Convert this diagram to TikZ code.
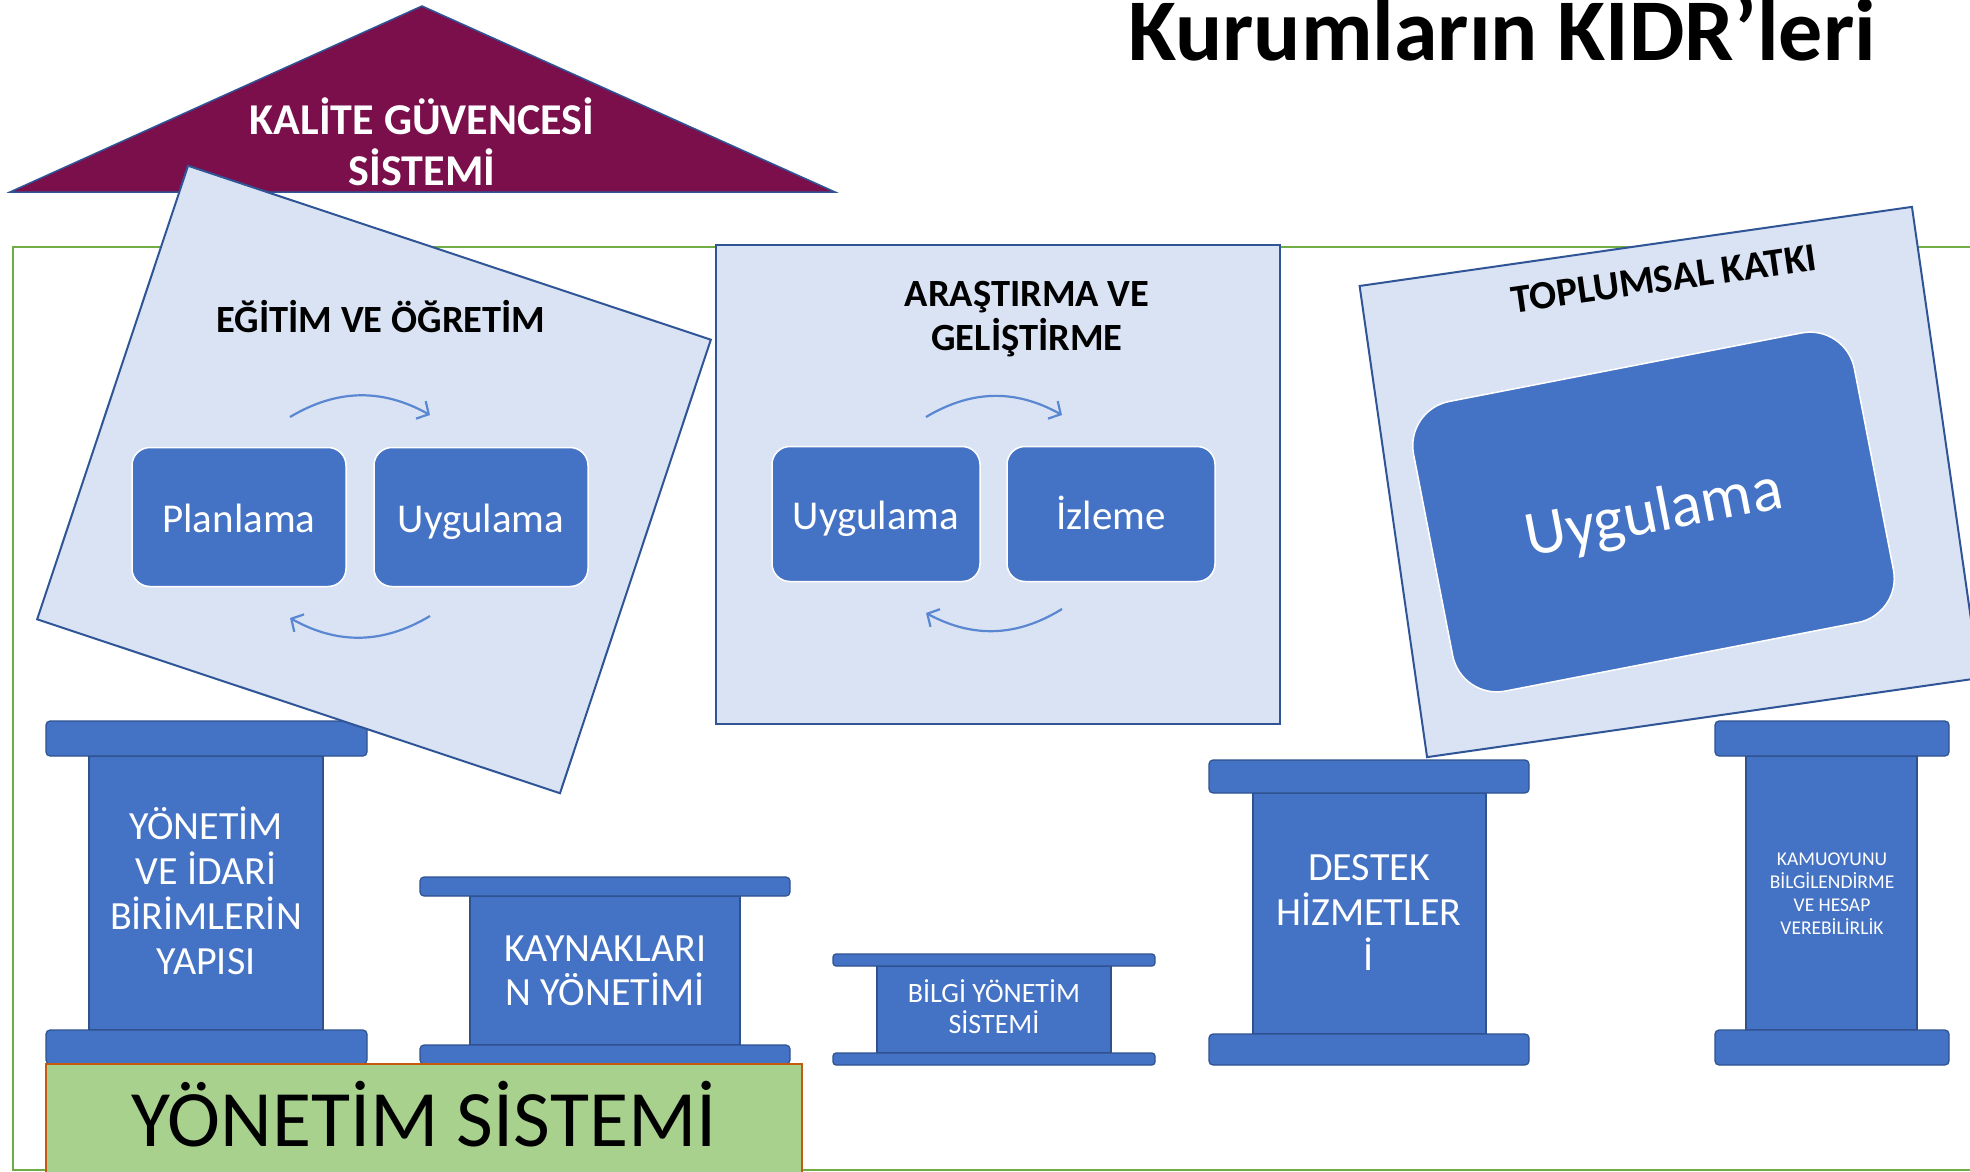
\documentclass[tikz,border=0pt]{standalone}
\usepackage{fontspec}
\setmainfont{Carlito}
\usetikzlibrary{arrows.meta}
\definecolor{kgpurple}{HTML}{7A0F4C}
\definecolor{panelfill}{HTML}{DAE3F3}
\definecolor{panelline}{HTML}{2F5597}
\definecolor{boxblue}{HTML}{4472C4}
\definecolor{pillarline}{HTML}{2F528F}
\definecolor{arrowblue}{HTML}{5A87D2}
\definecolor{framegreen}{HTML}{70AD47}
\definecolor{basegreen}{HTML}{A9D18E}
\definecolor{baseorange}{HTML}{C55A11}
\newcommand\myfs[2]{\fontsize{#1}{#2}\selectfont}
\begin{document}
\begin{tikzpicture}[x=1pt,y=-1pt,
  panel/.style={draw=panelline,line width=2pt,fill=panelfill,inner sep=0pt},
  cyclebox/.style={draw=white,line width=1.5pt,fill=boxblue,rounded corners=18pt,text=white,inner sep=0pt,
     font=\myfs{41}{49},text height=30pt,text depth=0pt,minimum width=214pt,minimum height=139pt},
  capbox/.style={fill=boxblue,draw=pillarline,line width=1.2pt,rounded corners=4pt,inner sep=0pt},
  shaftbox/.style={fill=boxblue,draw=pillarline,line width=1.2pt,inner sep=0pt},
  pillartext/.style={text=white,align=center,inner sep=0pt},
  cyclearrow/.style={draw=arrowblue,line width=2.2pt,-{Straight Barb[length=9pt,width=20pt]}},
  headtext/.style={font=\bfseries\myfs{38.5}{44},inner sep=0pt,align=center}
]
\useasboundingbox (0,0) rectangle (1970,1171);
\clip (0,0) rectangle (1970,1171);
\fill[white] (0,0) rectangle (1970,1171);

% outer green frame
\draw[framegreen,line width=2pt] (12.5,246.5) rectangle (1995,1169.5);

% quality roof
\coordinate (kgtop) at (422,6);
\coordinate (kgleft) at (10,192);
\coordinate (kgright) at (835,192);
\draw[panelline,line width=1.5pt,fill=kgpurple] (kgleft) -- (kgtop) -- (kgright) -- cycle;
\node[text=white,font=\bfseries\myfs{44}{51},align=center,inner sep=0pt] (kgtext) at (422,142) {KALİTE GÜVENCESİ\\SİSTEMİ};

% pillars
\node[shaftbox,minimum width=234pt,minimum height=274pt] (p1shaft) at (206,893) {};
\node[capbox,minimum width=321pt,minimum height=35pt] (p1top) at (206.5,738.5) {};
\node[capbox,minimum width=321pt,minimum height=34pt] (p1bot) at (206.5,1047) {};
\node[pillartext,font=\myfs{40}{45}] (p1text) at (206,891) {YÖNETİM\\VE İDARİ\\BİRİMLERİN\\YAPISI};

\node[shaftbox,minimum width=270pt,minimum height=149pt] (p2shaft) at (605,970.5) {};
\node[capbox,minimum width=370pt,minimum height=19pt] (p2top) at (605,886.5) {};
\node[capbox,minimum width=370pt,minimum height=19pt] (p2bot) at (605,1054.5) {};
\node[pillartext,font=\myfs{40}{44}] (p2text) at (605,971) {KAYNAKLARI\\N YÖNETİMİ};

\node[shaftbox,minimum width=234pt,minimum height=87pt] (p3shaft) at (994,1009.5) {};
\node[capbox,minimum width=322pt,minimum height=12pt,rounded corners=3pt] (p3top) at (994,960) {};
\node[capbox,minimum width=322pt,minimum height=12pt,rounded corners=3pt] (p3bot) at (994,1059) {};
\node[pillartext,font=\myfs{28}{31}] (p3text) at (994,1007) {BİLGİ YÖNETİM\\SİSTEMİ};

\node[shaftbox,minimum width=233pt,minimum height=241pt] (p4shaft) at (1369.5,913.5) {};
\node[capbox,minimum width=320pt,minimum height=33pt] (p4top) at (1369,776.5) {};
\node[capbox,minimum width=320pt,minimum height=31pt] (p4bot) at (1369,1049.5) {};
\node[pillartext,font=\myfs{40}{45}] (p4text) at (1369,913) {DESTEK\\HİZMETLER\\İ};

\node[shaftbox,minimum width=171pt,minimum height=274pt] (p5shaft) at (1831.5,893) {};
\node[capbox,minimum width=234pt,minimum height=35pt] (p5top) at (1832,738.5) {};
\node[capbox,minimum width=234pt,minimum height=35pt] (p5bot) at (1832,1047.5) {};
\node[pillartext,font=\myfs{19.5}{23}] (p5text) at (1832,894) {KAMUOYUNU\\BİLGİLENDİRME\\VE HESAP\\VEREBİLİRLİK};

% management system base
\draw[baseorange,line width=1.5pt,fill=basegreen] (46,1064) rectangle (802,1190);
\node[font=\myfs{80}{96},anchor=base,inner sep=0pt] (ystext) at (424,1146) {YÖNETİM SİSTEMİ};

% education panel
\node[panel,minimum width=551pt,minimum height=478pt,rotate=-18.4] (egitim) at (374,479.5) {};
\node[headtext,anchor=base] (egtitle) at (381,332) {EĞİTİM VE ÖĞRETİM};
\node[cyclebox] (egplan) at (239,517) {Planlama};
\node[cyclebox] (eguyg) at (481,517) {Uygulama};
\coordinate (ega1) at (290,417);
\coordinate (egb1) at (430,415);
\coordinate (ega2) at (430,616);
\coordinate (egb2) at (290,618);
\draw[cyclearrow] (ega1) to[bend left=30] (egb1);
\draw[cyclearrow] (ega2) to[bend left=30] (egb2);

% research panel
\node[panel,minimum width=564pt,minimum height=479pt] (arge) at (998,484.5) {};
\node[headtext] (agtitle) at (1027,319) {ARAŞTIRMA VE\\GELİŞTİRME};
\node[cyclebox,minimum width=208pt,minimum height=135pt] (aguyg) at (876,514) {Uygulama};
\node[cyclebox,minimum width=208pt,minimum height=135pt] (agizl) at (1111,514) {İzleme};
\coordinate (aga1) at (926,417);
\coordinate (agb1) at (1062,415);
\coordinate (aga2) at (1062,609);
\coordinate (agb2) at (926,613);
\draw[cyclearrow] (aga1) to[bend left=30] (agb1);
\draw[cyclearrow] (aga2) to[bend left=30] (agb2);

% community panel
\node[panel,minimum width=558pt,minimum height=476pt,rotate=8.15] (toplum) at (1669.5,482) {};
\node[font=\bfseries\myfs{40}{48},rotate=8.15,text height=25.5pt,text depth=0pt,inner sep=0pt] (tktitle) at (1664,279) {TOPLUMSAL KATKI};
\node[draw=white,line width=1.5pt,fill=boxblue,rounded corners=45pt,rotate=11,minimum width=449pt,minimum height=295pt,
      inner sep=0pt,text=white,font=\myfs{64}{77},text height=41pt,text depth=0pt] (tkuyg) at (1653.5,512) {Uygulama};

% title
\node[font=\bfseries\myfs{88}{104},anchor=base,inner sep=0pt] (title) at (1502,60) {Kurumların KİDR’leri};
\end{tikzpicture}
\end{document}
